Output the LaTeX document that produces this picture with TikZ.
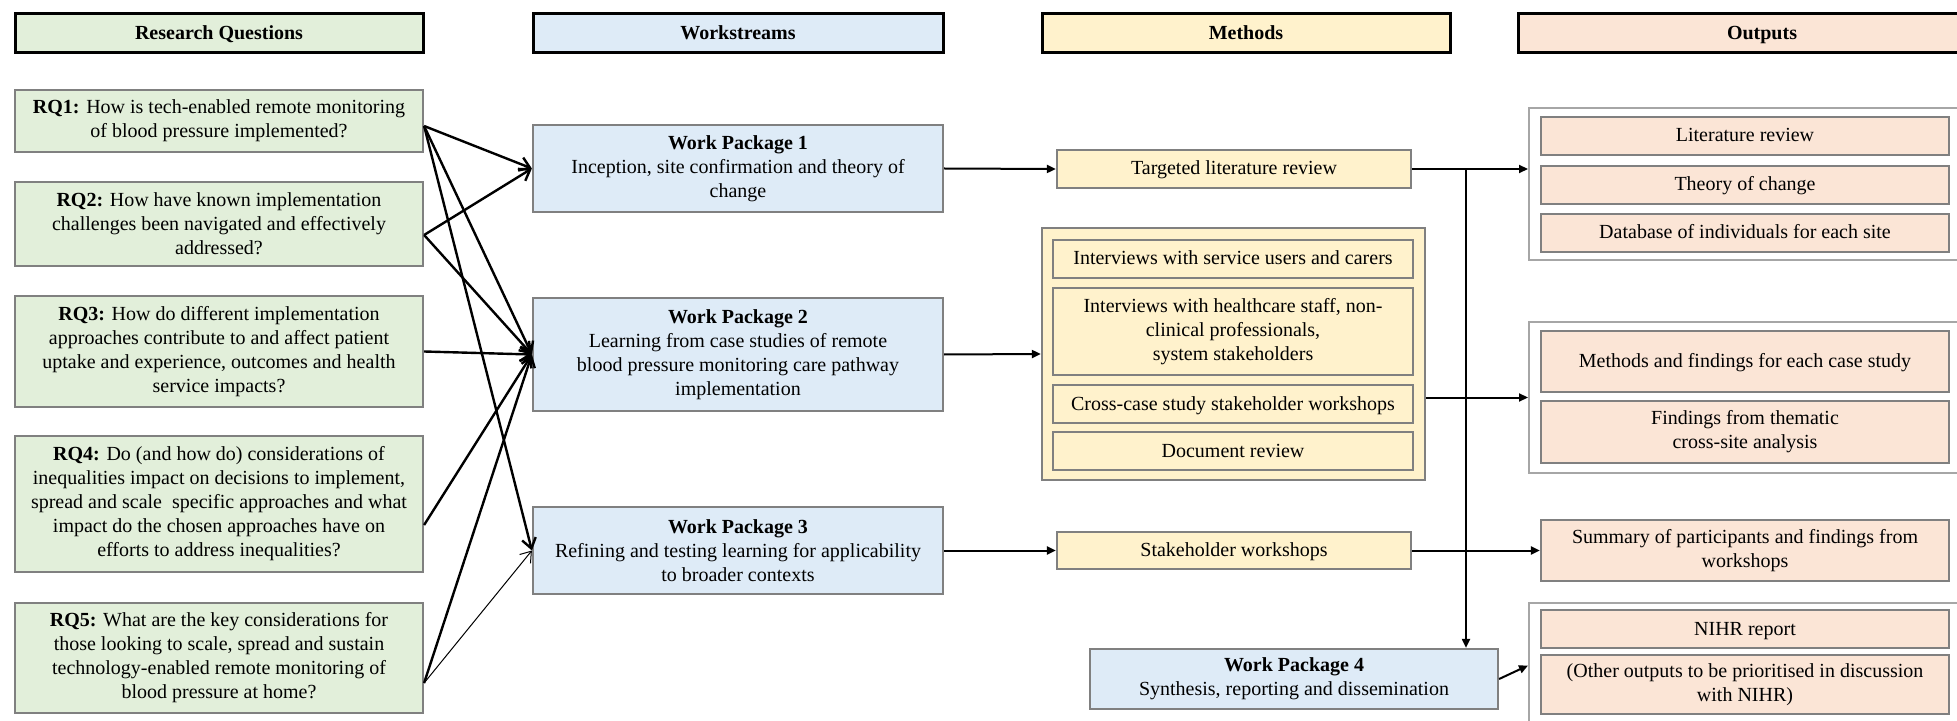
\documentclass[tikz,border=0pt]{standalone}
\usepackage{fontspec}
\setmainfont{Liberation Serif}
\usetikzlibrary{arrows.meta}
\definecolor{rqgreen}{RGB}{226,239,218}
\definecolor{wpblue}{RGB}{222,235,247}
\definecolor{myellow}{RGB}{255,242,204}
\definecolor{opeach}{RGB}{251,229,214}
\definecolor{boxgray}{RGB}{128,128,128}
\definecolor{grpgray}{RGB}{166,166,166}

\begin{document}
\begin{tikzpicture}[x=0.5pt,y=0.5pt]
\tikzstyle{every node}+=[inner sep=0pt, align=center, font=\fontsize{10}{12}\selectfont]
\tikzstyle{oneline}=[text height=7pt, text depth=1pt]
\tikzstyle{hdbox}=[draw=black, line width=1.5pt, minimum height=19.5pt, oneline, font=\fontsize{10}{12}\selectfont\bfseries]
\tikzstyle{rqbox}=[draw=boxgray, line width=1.1pt, fill=rqgreen, minimum width=204pt]
\tikzstyle{wpbox}=[draw=boxgray, line width=1.1pt, fill=wpblue, minimum width=205pt]
\tikzstyle{mbox}=[draw=boxgray, line width=1.1pt, fill=myellow]
\tikzstyle{obox}=[draw=boxgray, line width=1.1pt, fill=opeach, minimum width=204pt]
\tikzstyle{grpbox}=[draw=grpgray, line width=1pt, fill=white]
\tikzstyle{link}=[black, line width=1.2pt, -{Straight Barb[length=5pt,width=7pt]}]
\tikzstyle{flow}=[black, line width=1pt, -{Triangle[length=4.5pt,width=4pt]}]
\useasboundingbox (0,0) rectangle (1957,-721);
\node [hdbox, fill=rqgreen, minimum width=204pt] (hrq) at (219,-33.5) {Research Questions};
\node [hdbox, fill=wpblue, minimum width=205pt] (hws) at (738,-33.5) {Workstreams};
\node [hdbox, fill=myellow, minimum width=204pt] (hme) at (1246,-33.5) {Methods};
\node [hdbox, fill=opeach, minimum width=244pt] (hout) at (1762,-33.5) {Outputs};
\node [rqbox, minimum height=31pt] (rq1) at (219,-121) {\textbf{RQ1:} How is tech-enabled remote monitoring\\of blood pressure implemented?};
\node [rqbox, minimum height=42pt] (rq2) at (219,-224) {\textbf{RQ2:} How have known implementation\\challenges been navigated and effectively\\addressed?};
\node [rqbox, minimum height=55.5pt] (rq3) at (219,-351.5) {\textbf{RQ3:} How do different implementation\\approaches contribute to and affect patient\\uptake and experience, outcomes and health\\service impacts?};
\node [rqbox, minimum height=68pt] (rq4) at (219,-504) {\textbf{RQ4:} Do (and how do) considerations of\\inequalities impact on decisions to implement,\\spread and scale\ \ specific approaches and what\\impact do the chosen approaches have on\\efforts to address inequalities?};
\node [rqbox, minimum height=55pt] (rq5) at (219,-658) {\textbf{RQ5:} What are the key considerations for\\those looking to scale, spread and sustain\\technology-enabled remote monitoring of\\blood pressure at home?};
\node [wpbox, minimum height=43.5pt] (wp1) at (738,-168.5) {\textbf{Work Package 1}\\Inception, site confirmation and theory of\\change};
\node [wpbox, minimum height=56.5pt] (wp2) at (738,-354.5) {\textbf{Work Package 2}\\Learning from case studies of remote\\blood pressure monitoring care pathway\\implementation};
\node [wpbox, minimum height=43.5pt] (wp3) at (738,-550.5) {\textbf{Work Package 3}\\Refining and testing learning for applicability\\to broader contexts};
\node [wpbox, minimum width=204pt, minimum height=30pt] (wp4) at (1294,-679) {\textbf{Work Package 4}\\Synthesis, reporting and dissemination};
\node [mbox, oneline, minimum width=177pt, minimum height=19pt] (lit) at (1234,-169) {Targeted literature review};
\node [mbox, minimum width=191.5pt, minimum height=126pt] (mgrp) at (1233.5,-354) {};
\node [mbox, oneline, minimum width=180pt, minimum height=19pt] (m1) at (1233,-259) {Interviews with service users and carers};
\node [mbox, minimum width=180pt, minimum height=43.5pt] (m2) at (1233,-331.5) {Interviews with healthcare staff, non-\\clinical professionals,\\system stakeholders};
\node [mbox, oneline, minimum width=180pt, minimum height=19pt] (m3) at (1233,-404) {Cross-case study stakeholder workshops};
\node [mbox, oneline, minimum width=180pt, minimum height=19pt] (m4) at (1233,-451) {Document review};
\node [mbox, oneline, minimum width=177pt, minimum height=18.5pt] (sw) at (1234,-550.5) {Stakeholder workshops};
\node [grpbox, minimum width=223pt, minimum height=76pt] (og1) at (1752,-184) {};
\node [obox, oneline, minimum height=19pt] (o1) at (1745,-136) {Literature review};
\node [obox, oneline, minimum height=19pt] (o2) at (1745,-185) {Theory of change};
\node [obox, oneline, minimum height=19pt] (o3) at (1745,-233) {Database of individuals for each site};
\node [grpbox, minimum width=223pt, minimum height=75.5pt] (og2) at (1752,-397.5) {};
\node [obox, oneline, minimum height=30.5pt] (o4) at (1745,-361.5) {Methods and findings for each case study};
\node [obox, minimum height=31pt] (o5) at (1745,-432) {Findings from thematic\\cross-site analysis};
\node [obox, minimum height=30.5pt] (o6) at (1745,-550.5) {Summary of participants and findings from\\workshops};
\node [grpbox, minimum width=223pt, minimum height=78.5pt] (og3) at (1752,-681.5) {};
\node [obox, oneline, minimum height=19pt] (o7) at (1745,-629) {NIHR report};
\node [obox, minimum height=29.5pt] (o8) at (1745,-684.5) {(Other outputs to be prioritised in discussion\\with NIHR)};
\coordinate (jn) at (1466,-169);
\draw [link] ([yshift=-2.5pt]rq1.east) -- (wp1.west);
\draw [link] ([yshift=-2.5pt]rq1.east) -- (wp2.west);
\draw [link] ([yshift=-2.5pt]rq1.east) -- (wp3.west);
\draw [link] ([yshift=-5.5pt]rq2.east) -- (wp1.west);
\draw [link] ([yshift=-5.5pt]rq2.east) -- (wp2.west);
\draw [link] (rq3.east) -- (wp2.west);
\draw [link] ([yshift=-10.5pt]rq4.east) -- (wp2.west);
\draw [link] ([yshift=-12.5pt]rq5.east) -- (wp2.west);
\draw [link, line width=0.5pt] ([yshift=-12.5pt]rq5.east) -- (wp3.west);
\draw [flow] (wp1.east) -- (lit.west);
\draw [flow] (wp2.east) -- (mgrp.west);
\draw [flow] (wp3.east) -- (sw.west);
\draw [flow] (lit.east) -- (lit.east -| og1.west);
\draw [flow] (og2.west -| mgrp.east) -- (og2.west);
\draw [flow] (sw.east) -- (o6.west);
\draw [flow] (jn) -- (jn |- wp4.north);
\draw [flow] (wp4.east) -- ([yshift=8pt]og3.west);
\end{tikzpicture}
\end{document}
